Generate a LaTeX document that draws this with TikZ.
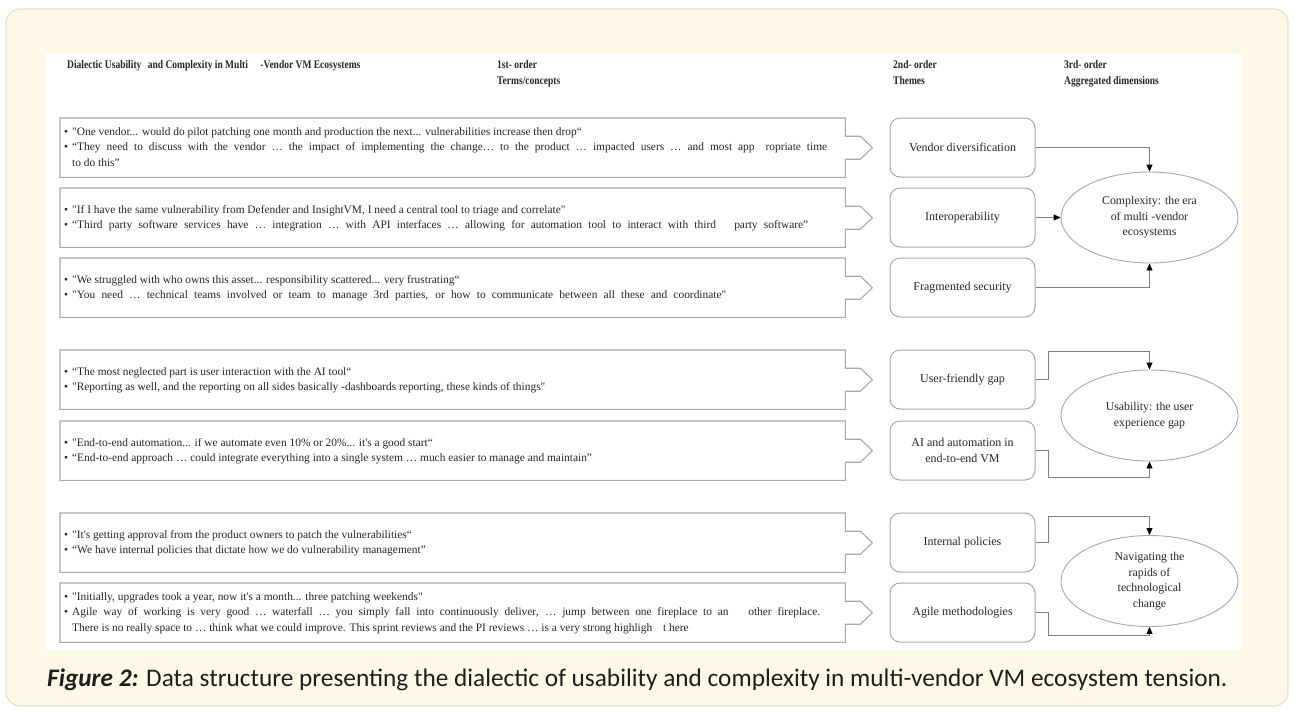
\documentclass[tikz,border=0pt]{standalone}
\usepackage{fontspec}
\setmainfont{Liberation Serif}
\newfontfamily\bodyfont{Liberation Serif}
\newfontfamily\hfont[FakeStretch=0.82]{Liberation Serif}
\newfontfamily\capfont{Carlito}
\usetikzlibrary{shapes.geometric,arrows.meta,calc}
\definecolor{cream}{HTML}{FEF9E7}
\definecolor{outerln}{HTML}{E4E0D2}
\definecolor{boxgray}{HTML}{A8A8A8}
\definecolor{conngray}{HTML}{7F7F7F}
\definecolor{txt}{HTML}{262626}
\definecolor{captxt}{HTML}{1E1E1E}
\newcommand\qshape[1]{\draw[qline] (#1.north west) -- (#1.north east) -- ([yshift=11.5pt]#1.east) -- ++(15,0) -- ++(12,11.5) -- ++(-12,11.5) -- ++(-15,0) -- (#1.south east) -- (#1.south west) -- cycle;}
\newcommand\jline[2]{\makebox[#1][s]{#2}}
\begin{document}
\begin{tikzpicture}[x=1pt,y=-1pt,
  qline/.style={draw=boxgray, line width=1.1pt, line join=miter},
  qarea/.style={minimum width=785pt, minimum height=59pt, inner sep=0pt, anchor=north west},
  qtext/.style={anchor=west, inner sep=0pt, text=txt, font=\bodyfont\fontsize{11.4}{15.5}\selectfont},
  hdr/.style={anchor=north west, inner sep=0pt, align=left, text=txt, font=\hfont\bfseries\fontsize{11.6}{16}\selectfont},
  theme/.style={draw=boxgray, line width=1pt, rounded corners=10pt, minimum width=145pt, minimum height=59pt, inner sep=2pt, align=center, text=txt, font=\fontsize{12}{15.5}\selectfont},
  dim/.style={ellipse, draw=boxgray, line width=0.9pt, minimum width=177pt, minimum height=91pt, inner sep=0pt, align=center, text=txt, font=\fontsize{11.8}{15.5}\selectfont},
  conn/.style={draw=conngray, line width=0.9pt, -{Triangle[length=7pt,width=6pt,color=black]}}
]
\useasboundingbox (0,0) rectangle (1294,713);
\fill[white] (0,0) rectangle (1294,713);
\draw[draw=outerln, line width=1.2pt, fill=cream, rounded corners=14pt] (6,9) rectangle (1288,706);
\fill[white] (46,53) rectangle (1241,650);

% headers
\node[hdr] (h0) at (67,60) {Dialectic Usability\hspace{4pt} and Complexity in Multi\hspace{10pt} -Vendor VM Ecosystems};
\node[hdr] (h1) at (497,60) {1st- order\\Terms/concepts};
\node[hdr] (h2) at (893,60) {2nd- order\\Themes};
\node[hdr] (h3) at (1064,60) {3rd- order\\Aggregated dimensions};

% quote boxes
\node[qarea] (q1) at (60,118) {};
\node[qarea] (q2) at (60,188) {};
\node[qarea] (q3) at (60,258) {};
\node[qarea] (q4) at (60,350) {};
\node[qarea] (q5) at (60,421) {};
\node[qarea] (q6) at (60,513) {};
\node[qarea] (q7) at (60,583) {};
\foreach \q in {q1,q2,q3,q4,q5,q6,q7} {\qshape{\q}}

\node[qtext] (q1t) at ([xshift=4pt]q1.west) {\begin{tabular}{@{}l@{\hspace{4pt}}l@{}}
•&"One vendor... would do pilot patching one month and production the next... vulnerabilities increase then drop“\\
•&\jline{755pt}{“They need to discuss with the vendor … the impact of implementing the change… to the product … impacted users … and most app\hspace{5pt} ropriate time}\\
&to do this”\end{tabular}};
\node[qtext] (q2t) at ([xshift=4pt]q2.west) {\begin{tabular}{@{}l@{\hspace{4pt}}l@{}}
•&"If I have the same vulnerability from Defender and InsightVM, I need a central tool to triage and correlate"\\
•&\jline{736pt}{“Third party software services have … integration … with API interfaces … allowing for automation tool to interact with third\hspace{12pt} party software”}\end{tabular}};
\node[qtext] (q3t) at ([xshift=4pt]q3.west) {\begin{tabular}{@{}l@{\hspace{4pt}}l@{}}
•&"We struggled with who owns this asset... responsibility scattered... very frustrating“\\
•&\jline{654pt}{"You need … technical teams involved or team to manage 3rd parties, or how to communicate between all these and coordinate"}\end{tabular}};
\node[qtext] (q4t) at ([xshift=4pt]q4.west) {\begin{tabular}{@{}l@{\hspace{4pt}}l@{}}
•&“The most neglected part is user interaction with the AI tool“\\
•&"Reporting as well, and the reporting on all sides basically -dashboards reporting, these kinds of things"\end{tabular}};
\node[qtext] (q5t) at ([xshift=4pt]q5.west) {\begin{tabular}{@{}l@{\hspace{4pt}}l@{}}
•&"End-to-end automation... if we automate even 10\% or 20\%... it's a good start“\\
•&“End-to-end approach … could integrate everything into a single system … much easier to manage and maintain”\end{tabular}};
\node[qtext] (q6t) at ([xshift=4pt]q6.west) {\begin{tabular}{@{}l@{\hspace{4pt}}l@{}}
•&"It's getting approval from the product owners to patch the vulnerabilities“\\
•&“We have internal policies that dictate how we do vulnerability management”\end{tabular}};
\node[qtext] (q7t) at ([xshift=4pt]q7.west) {\begin{tabular}{@{}l@{\hspace{4pt}}l@{}}
•&"Initially, upgrades took a year, now it's a month... three patching weekends"\\
•&\jline{748pt}{Agile way of working is very good … waterfall … you simply fall into continuously deliver, … jump between one fireplace to an\hspace{14pt} other fireplace.}\\
&There is no really space to … think what we could improve. This sprint reviews and the PI reviews … is a very strong highligh\hspace{8pt} t here\end{tabular}};

% themes
\node[theme] (t1) at (962.5,147.5) {Vendor diversification};
\node[theme] (t2) at (962.5,217.5) {Interoperability};
\node[theme] (t3) at (962.5,287.5) {Fragmented security};
\node[theme] (t4) at (962.5,379.5) {User-friendly gap};
\node[theme] (t5) at (962.5,450.5) {AI and automation in\\end-to-end VM};
\node[theme] (t6) at (962.5,542.5) {Internal policies};
\node[theme] (t7) at (962.5,612.5) {Agile methodologies};

% aggregated dimensions
\node[dim] (e1) at (1149.5,217.5) {Complexity: the era\\ of multi -vendor\\ecosystems};
\node[dim] (e2) at (1149.5,415.5) {Usability: the user\\experience gap};
\node[dim] (e3) at (1149.5,581) {Navigating the\\rapids of\\technological\\change};

% connectors
\draw[conn] (t1.east) -| (e1.north);
\draw[conn] (t2.east) -- (e1.west);
\draw[conn] (t3.east) -| (e1.south);
\draw[conn] (t4.east) -- ++(13,0) |- ([yshift=18pt]e2.north) -- (e2.north);
\draw[conn] (t5.east) -- ++(13,0) |- ([yshift=-16pt]e2.south) -- (e2.south);
\draw[conn] (t6.east) -- ++(13,0) |- ([yshift=19pt]e3.north) -- (e3.north);
\draw[conn] (t7.east) -- ++(13,0) |- ([yshift=-8pt]e3.south) -- (e3.south);

% caption
\node[anchor=west, inner sep=0pt, text=captxt, font=\capfont\fontsize{25.3}{28}\selectfont] (cap) at (47,680) {\textbf{\textit{Figure 2:}} Data structure presenting the dialectic of usability and complexity in multi-vendor VM ecosystem tension.};
\end{tikzpicture}
\end{document}
